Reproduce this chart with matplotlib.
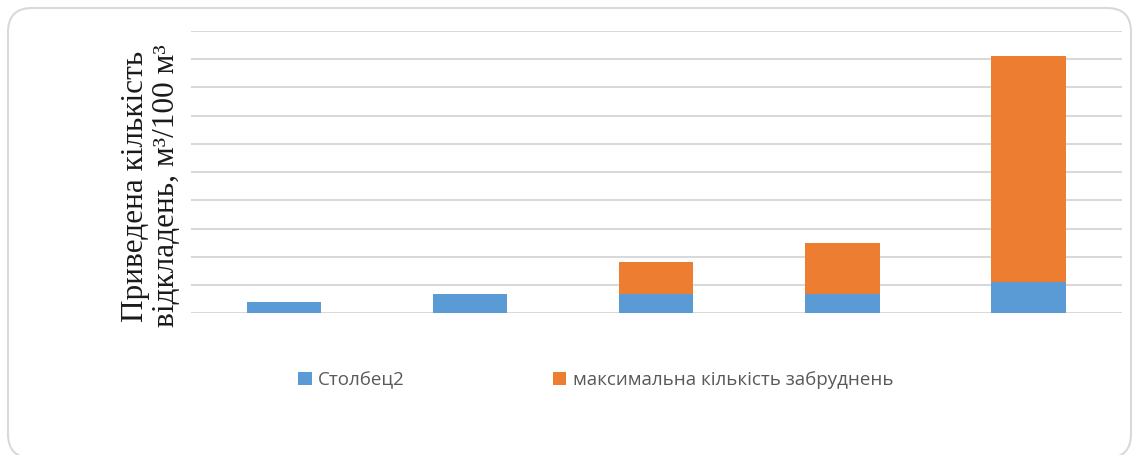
import matplotlib
matplotlib.use("Agg")
import matplotlib.pyplot as plt
from matplotlib.patches import FancyBboxPatch, Patch
from matplotlib.transforms import IdentityTransform
import numpy as np

# Data
categories = ["1", "2", "3", "4", "5"]
stolbets2 = [0.4, 0.7, 0.7, 0.7, 1.1]
max_pollution = [0.0, 0.0, 1.1, 1.8, 8.0]
series_names = ["Столбец2", "максимальна кількість забруднень"]
y_label = "Приведена кількість\nвідкладень, м³/100 м³"

BLUE = "#5B9BD5"
ORANGE = "#ED7D31"
GRID = "#D9D9D9"

W, H = 1133, 455
fig = plt.figure(figsize=(W / 100, H / 100), dpi=100)

# Rounded chart-area frame, in pixel coordinates (origin bottom-left)
frame = FancyBboxPatch((8, H - 458), 1123, 450,
                       boxstyle="round,pad=0,rounding_size=24",
                       transform=IdentityTransform(), fill=False,
                       edgecolor="#D9D9D9", linewidth=1.5)
fig.patches.append(frame)

ax = fig.add_axes([190.7 / W, 1 - 313.3 / H, (1121.7 - 190.7) / W, (313.3 - 31) / H])
x = np.arange(len(categories))
ax.bar(x, stolbets2, width=0.4, color=BLUE, zorder=3)
ax.bar(x, max_pollution, width=0.4, bottom=stolbets2, color=ORANGE, zorder=3)

ax.set_xlim(-0.5, len(categories) - 0.5)
ax.set_ylim(0, 10)
ax.set_yticks(np.arange(0, 11, 1))
ax.grid(axis="y", color=GRID, linewidth=1.5, zorder=0)
ax.tick_params(left=False, bottom=False, labelleft=False, labelbottom=False)
for s in ax.spines.values():
    s.set_visible(False)

fig.text(151 / W, 1 - 186 / H, y_label, rotation=90, ha="center", va="center",
         family="Liberation Serif", fontsize=22.5, linespacing=1.1, color="#1a1a1a")

handles = [Patch(facecolor=BLUE), Patch(facecolor=ORANGE)]
fig.legend(handles, series_names, loc="center left", bbox_to_anchor=(298 / W, 1 - 380 / H),
           ncol=2, frameon=False, prop={"family": "Open Sans", "size": 13.5},
           labelcolor="#595959", handlelength=0.72, handleheight=0.72,
           handletextpad=0.35, columnspacing=7.9, borderpad=0, borderaxespad=0)

fig.savefig("out.png", dpi=100)
